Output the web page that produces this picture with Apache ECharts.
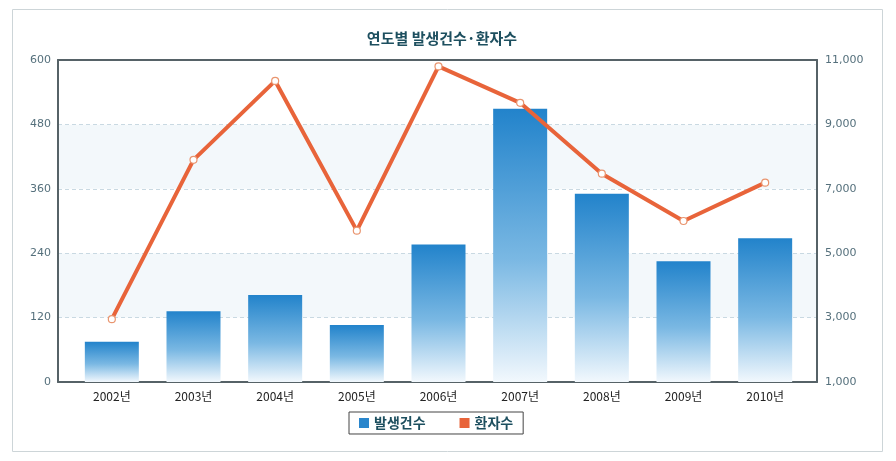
<!DOCTYPE html>
<html><head><meta charset="utf-8">
<script src="https://cdn.jsdelivr.net/npm/echarts@6/dist/echarts.min.js"></script>
<style>html,body{margin:0;padding:0;background:#fff}#c{width:896px;height:461px}</style>
</head><body><div id="c"></div>
<script>
const categories = ['2002년','2003년','2004년','2005년','2006년','2007년','2008년','2009년','2010년'];
const cases = [75, 132, 162, 106, 256, 509, 351, 225, 268];
const patients = [2950, 7900, 10350, 5700, 10800, 9670, 7470, 6000, 7190];
const leftTicks = {min: 0, max: 600, interval: 120};
const rightTicks = {min: 1000, max: 11000, interval: 2000};

const chart = echarts.init(document.getElementById('c'));
const numFont = {color: '#55707c', fontSize: 11, fontFamily: 'DejaVu Sans'};
const frameLine = {show: true, onZero: false, lineStyle: {color: '#566267', width: 2}};
chart.setOption({
  animation: false,
  title: {
    text: '연도별 발생건수·환자수',
    left: 437, top: 26, textAlign: 'center',
    textStyle: {fontSize: 15, fontWeight: 'bold', color: '#1d4f5f', fontFamily: 'Noto Sans CJK KR'}
  },
  graphic: [{type: 'rect', shape: {x: 12.5, y: 9.5, width: 870, height: 442}, style: {fill: 'none', stroke: '#cdd5d8', lineWidth: 1}, silent: true, z: -10}],
  legend: {
    left: 349, top: 412,
    padding: [4, 10, 4, 10],
    borderColor: '#444', borderWidth: 1,
    itemWidth: 10, itemHeight: 10, itemGap: 34,
    icon: 'rect',
    textStyle: {fontSize: 14, fontWeight: 'bold', color: '#1d4f5f', fontFamily: 'Noto Sans CJK KR'},
    data: [{name: '발생건수', itemStyle: {color: '#2a86cc', borderWidth: 0}}, {name: '환자수', itemStyle: {color: '#e8643a', borderWidth: 0}}]
  },
  grid: [
    {left: 58, right: 79, top: 60, bottom: 79},
    {left: 71, right: 90, top: 60, bottom: 79}
  ],
  xAxis: [
    {type: 'value', gridIndex: 0, position: 'bottom', min: 0, max: 1,
     axisLine: frameLine, axisTick: {show: false}, axisLabel: {show: false}, splitLine: {show: false}},
    {type: 'category', gridIndex: 1, data: categories, boundaryGap: true,
     axisLine: {show: false}, axisTick: {show: false},
     axisLabel: {color: '#222', fontSize: 12, fontFamily: 'Noto Sans CJK KR', margin: 8}},
    {type: 'value', gridIndex: 0, position: 'top', min: 0, max: 1,
     axisLine: frameLine, axisTick: {show: false}, axisLabel: {show: false}, splitLine: {show: false}}
  ],
  yAxis: [
    {type: 'value', gridIndex: 0, position: 'left', min: leftTicks.min, max: leftTicks.max, interval: leftTicks.interval,
     axisLine: frameLine, axisTick: {show: false},
     axisLabel: Object.assign({margin: 7}, numFont),
     splitLine: {show: true, lineStyle: {color: '#c9d9e2', type: [4, 3], width: 1}},
     splitArea: {show: true, areaStyle: {color: ['#ffffff', '#f3f8fb']}}},
    {type: 'value', gridIndex: 0, position: 'right', min: rightTicks.min, max: rightTicks.max, interval: rightTicks.interval,
     axisLine: frameLine, axisTick: {show: false},
     axisLabel: Object.assign({margin: 8, formatter: v => v.toLocaleString('en-US')}, numFont),
     splitLine: {show: false}},
    {type: 'value', gridIndex: 1, show: false, min: leftTicks.min, max: leftTicks.max},
    {type: 'value', gridIndex: 1, show: false, min: rightTicks.min, max: rightTicks.max}
  ],
  series: [
    {name: '발생건수', type: 'bar', xAxisIndex: 1, yAxisIndex: 2, data: cases, barWidth: 54,
     itemStyle: {color: new echarts.graphic.LinearGradient(0, 0, 0, 1, [
       {offset: 0, color: '#2283cb'}, {offset: 0.55, color: '#7ab8e3'}, {offset: 1, color: '#f2f8fd'}])}},
    {name: '환자수', type: 'line', xAxisIndex: 1, yAxisIndex: 3, data: patients,
     lineStyle: {color: '#e8643a', width: 4},
     symbol: 'circle', symbolSize: 7,
     itemStyle: {color: '#ffffff', borderColor: '#e9956f', borderWidth: 1.2}, z: 5}
  ]
});
</script></body></html>
